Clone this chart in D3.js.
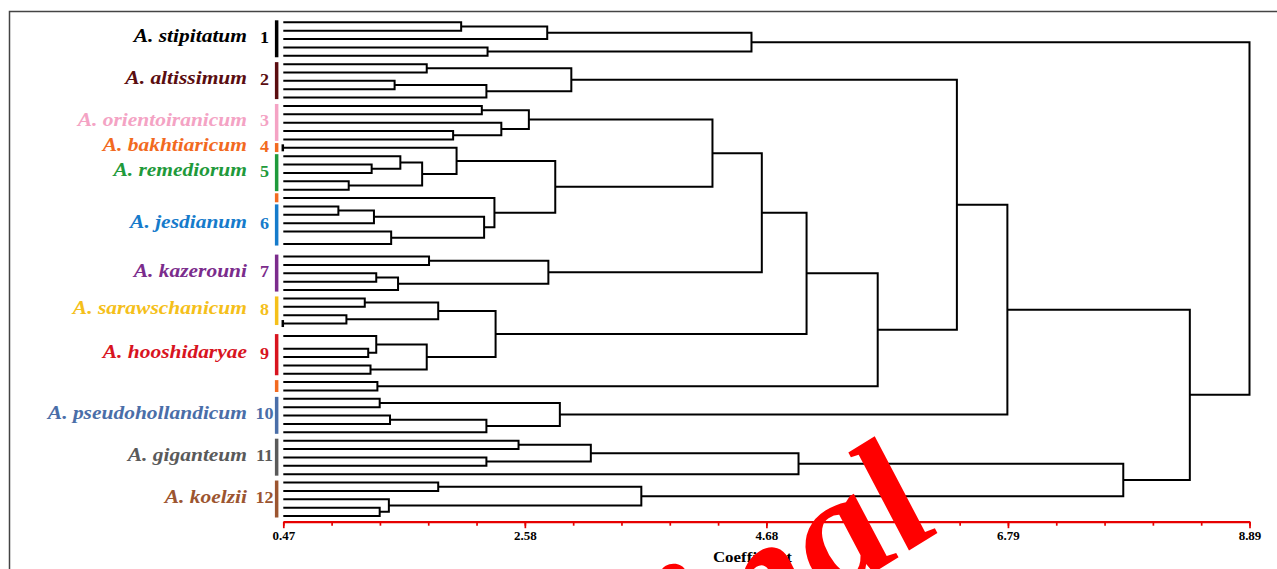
<!DOCTYPE html>
<html>
<head>
<meta charset="utf-8">
<script src="https://cdn.jsdelivr.net/npm/d3@7"></script>
<style>
  body { margin: 0; background: #fff; }
  svg { display: block; }
</style>
</head>
<body>
<div id="chart"></div>
<script>
const width = 1277,
  height = 569,
  stretch = 1.13,
  serif = "'Liberation Serif', 'Times New Roman', serif";

// species groups, top to bottom
const groupNames = [
  "A. stipitatum", "A. altissimum", "A. orientoiranicum", "A. bakhtiaricum",
  "A. remediorum", "A. jesdianum", "A. kazerouni", "A. sarawschanicum",
  "A. hooshidaryae", "A. pseudohollandicum", "A. giganteum", "A. koelzii"
];
const groupNumbers = ["1", "2", "3", "4", "5", "6", "7", "8", "9", "10", "11", "12"];
const groupColors = [
  "#000000", "#5a0d10", "#f4a3c4", "#f26a1f", "#1f9a3b", "#167bcb",
  "#7b2c8c", "#f5c01a", "#d8141f", "#4a6ea8", "#5a5a5a", "#9c5530"
];

// group number of each leaf, in dendrogram order
const leafGroups = [
  1, 1, 1, 1, 1,
  2, 2, 2, 2, 2,
  3, 3, 3, 3, 3,
  4,
  5, 5, 5, 5, 5,
  4,
  6, 6, 6, 6, 6,
  7, 7, 7, 7, 7,
  8, 8, 8, 8,
  9, 9, 9, 9, 9,
  4, 4,
  10, 10, 10, 10, 10,
  11, 11, 11, 11, 11,
  12, 12, 12, 12, 12
];
// specimens held by each leaf (2 = identical pair)
const leafSizes = [
  1, 1, 1, 1, 1,
  1, 1, 1, 1, 1,
  1, 1, 1, 1, 1,
  1,
  1, 1, 1, 1, 1,
  1,
  1, 1, 1, 1, 2,
  1, 1, 1, 1, 1,
  1, 1, 1, 1,
  2, 1, 1, 1, 1,
  1, 1,
  1, 1, 1, 1, 1,
  1, 1, 1, 1, 1,
  1, 1, 1, 1, 1
];
// leaves drawn with a small end bar
const leafTicks = [15, 35];

// merges: [a, b, coefficient]; ids >= 58 are earlier merges (58 + index)
const merges = [
  [0, 1, 2.02], [58, 2, 2.77], [3, 4, 2.25], [59, 60, 4.55],            // 58-61
  [5, 6, 1.72], [7, 8, 1.44], [63, 9, 2.24], [62, 64, 2.98],            // 62-65
  [10, 11, 2.2], [13, 14, 1.95], [12, 67, 2.37], [66, 68, 2.61],        // 66-69
  [17, 18, 1.24], [16, 70, 1.49], [19, 20, 1.04], [71, 72, 1.68],       // 70-73
  [15, 73, 1.98],                                                       // 74
  [22, 23, 0.95], [75, 24, 1.26], [25, 26, 1.41], [76, 77, 2.22],       // 75-78
  [21, 78, 2.31], [74, 79, 2.84], [69, 80, 4.21],                       // 79-81
  [27, 28, 1.74], [29, 30, 1.28], [83, 31, 1.47], [82, 84, 2.78],       // 82-85
  [81, 85, 4.64],                                                       // 86
  [32, 33, 1.18], [34, 35, 1.02], [87, 88, 1.82],                       // 87-89
  [37, 38, 1.21], [36, 90, 1.28], [39, 40, 1.23], [91, 92, 1.72],       // 90-93
  [89, 93, 2.32], [86, 94, 5.03],                                       // 94-95
  [41, 42, 1.29], [95, 96, 5.65], [65, 97, 6.34],                       // 96-98
  [43, 44, 1.31], [45, 46, 1.4], [100, 47, 2.24], [99, 101, 2.88],      // 99-102
  [98, 102, 6.78],                                                      // 103
  [48, 49, 2.52], [50, 51, 2.24], [104, 105, 3.15], [106, 52, 4.96],    // 104-107
  [53, 54, 1.82], [56, 57, 1.31], [55, 109, 1.39], [108, 110, 3.59],    // 108-111
  [107, 111, 7.79], [103, 112, 8.37], [61, 113, 8.89]                   // 112-114
];

const majorTicks = [0.47, 2.575, 4.68, 6.785, 8.89];
const tickLabels = ["0.47", "2.58", "4.68", "6.79", "8.89"];

const svg = d3
  .select("#chart")
  .append("svg")
  .attr("width", width)
  .attr("height", height);

// frame
svg
  .append("rect")
  .attr("x", 9.5)
  .attr("y", 11.5)
  .attr("width", 1400)
  .attr("height", 700)
  .attr("fill", "none")
  .attr("stroke", "#444")
  .attr("stroke-width", 1.5);

const x = d3.scaleLinear().domain([0.47, 8.89]).range([283.3, 1249.5]);
const y = d3.scaleLinear().domain([0, 59]).range([22.3, 516]);
const axisY = 521.7;

// build the tree
const nodes = leafGroups.map((g, i) => ({
  leaf: i,
  group: g,
  size: leafSizes[i],
  height: x.domain()[0]
}));
merges.forEach(([a, b, h]) => nodes.push({ children: [nodes[a], nodes[b]], height: h }));
const root = d3.hierarchy(nodes[nodes.length - 1]);

let slot = 0;
root.leaves().forEach(l => {
  l.y = y(slot + (l.data.size - 1) / 2);
  slot += l.data.size;
});
root.eachAfter(n => {
  if (n.children) n.y = d3.mean(n.children, c => c.y);
  n.x = x(n.data.height);
});

svg
  .append("g")
  .attr("fill", "none")
  .attr("stroke", "#000")
  .attr("stroke-width", 2)
  .selectAll("path")
  .data(root.descendants().filter(d => d.children))
  .join("path")
  .attr("d", d => {
    const [a, b] = d.children;
    return "M" + a.x + "," + a.y + "H" + d.x + "V" + b.y + "H" + b.x;
  });

svg
  .append("g")
  .selectAll("line")
  .data(root.leaves().filter(l => leafTicks.includes(l.data.leaf)))
  .join("line")
  .attr("x1", d => d.x - 0.5)
  .attr("x2", d => d.x - 0.5)
  .attr("y1", d => d.y - 3.5)
  .attr("y2", d => d.y + 3.5)
  .attr("stroke", "#000")
  .attr("stroke-width", 2.5);

// coloured group bars and labels
const runs = [];
root.leaves().forEach(l => {
  const last = runs[runs.length - 1];
  if (last && last.group === l.data.group) last.leaves.push(l);
  else runs.push({ group: l.data.group, leaves: [l] });
});
const seen = new Set();
runs.forEach(r => {
  let top = r.leaves[0].y - 2,
    bottom = r.leaves[r.leaves.length - 1].y + 1.5;
  if (bottom - top < 9) {
    const mid = (top + bottom) / 2;
    top = mid - 4.5;
    bottom = mid + 4.5;
  }
  r.top = top;
  r.bottom = bottom;
  r.first = !seen.has(r.group);
  seen.add(r.group);
});

const x0 = x(x.domain()[0]);
svg
  .append("g")
  .selectAll("rect")
  .data(runs)
  .join("rect")
  .attr("x", x0 - 8.4)
  .attr("width", 3.5)
  .attr("y", d => d.top)
  .attr("height", d => d.bottom - d.top)
  .attr("fill", d => groupColors[d.group - 1]);

const labelRuns = runs.filter(r => r.first);
svg
  .append("g")
  .selectAll("text")
  .data(labelRuns)
  .join("text")
  .attr("transform", d => "translate(247," + ((d.top + d.bottom) / 2 + 3.5) + ") scale(" + stretch + ",1)")
  .attr("text-anchor", "end")
  .style("font-family", serif)
  .style("font-weight", "bold")
  .style("font-style", "italic")
  .style("font-size", "19px")
  .attr("fill", d => groupColors[d.group - 1])
  .text(d => groupNames[d.group - 1]);

svg
  .append("g")
  .selectAll("text")
  .data(labelRuns)
  .join("text")
  .attr("transform", d => "translate(264.5," + ((d.top + d.bottom) / 2 + 4) + ") scale(" + stretch + ",1)")
  .attr("text-anchor", "middle")
  .style("font-family", serif)
  .style("font-weight", "bold")
  .style("font-size", "16px")
  .attr("fill", d => groupColors[d.group - 1])
  .text(d => groupNumbers[d.group - 1]);

// axis
const minorTicks = d3.range(0, 21).map(i => x.domain()[0] + (i * (x.domain()[1] - x.domain()[0])) / 20);
const minor = svg.append("g").attr("transform", "translate(0," + axisY + ")");
minor.call(
  d3.axisBottom(x).tickValues(minorTicks).tickFormat("").tickSizeInner(4).tickSizeOuter(0)
);
minor.select(".domain").remove();

const axis = svg.append("g").attr("transform", "translate(0," + axisY + ")");
axis.call(
  d3
    .axisBottom(x)
    .tickValues(majorTicks)
    .tickFormat((d, i) => tickLabels[i])
    .tickSizeInner(6.5)
    .tickSizeOuter(0)
    .tickPadding(3.5)
);
svg.selectAll(".tick line").attr("stroke", "#e60000").attr("stroke-width", 1.7);
axis.select(".domain").attr("stroke", "#e60000").attr("stroke-width", 2.2);
axis
  .selectAll(".tick text")
  .attr("fill", "#000")
  .attr("transform", "scale(" + stretch + ",1)")
  .style("font-family", serif)
  .style("font-weight", "bold")
  .style("font-size", "11.5px");

svg
  .append("text")
  .attr("transform", "translate(" + ((x.range()[0] + x.range()[1]) / 2 - 14) + ",562) scale(" + stretch + ",1)")
  .attr("text-anchor", "middle")
  .style("font-family", serif)
  .style("font-weight", "bold")
  .style("font-size", "15px")
  .text("Coefficient");

// watermark
svg
  .append("text")
  .attr("transform", "translate(947,527) scale(" + stretch + ",1) rotate(-35)")
  .attr("text-anchor", "end")
  .attr("fill", "#ff0000")
  .style("font-family", serif)
  .style("font-weight", "bold")
  .style("font-style", "italic")
  .style("font-size", "160px")
  .text("Original");
</script>
</body>
</html>
